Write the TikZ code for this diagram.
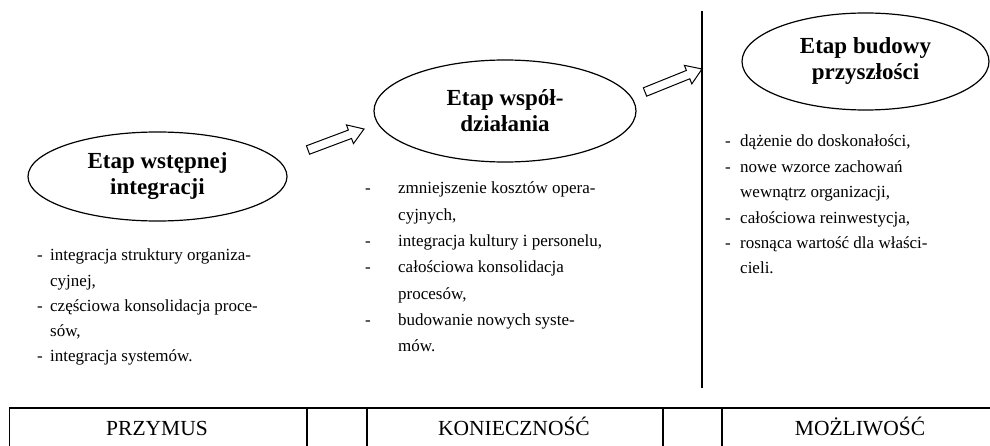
\documentclass[tikz,border=0pt]{standalone}
\usepackage{fontspec}
\setmainfont{Liberation Serif}
\usetikzlibrary{calc,shapes.geometric}

\newlength\dashw
% one list item: a dash followed by its text; continuation lines are indented
\newcommand\itm[1]{\makebox[\dashw][l]{-}#1}
\newcommand\cont[1]{\hspace*{\dashw}#1}

\tikzset{
  stage/.style={draw, line width=1.2pt, ellipse, inner sep=0pt, align=center,
    font=\fontsize{23}{26}\selectfont\bfseries},
  bullets/.style={anchor=base west, inner sep=0pt},
  blockarrow/.style={draw, line width=1pt, fill=white, line join=miter},
  rule/.style={line width=1.5pt},
  cell/.style={anchor=base, inner sep=0pt, font=\fontsize{21.5}{24}\selectfont},
}

% outlined block arrow from coordinate #1 to coordinate #2
\newcommand\blockarr[2]{%
  \draw[blockarrow] let \p1=($(#2)-(#1)$), \n1={atan2(\y1,\x1)}, \n2={veclen(\x1,\y1)} in
    [shift={(#1)}, rotate=\n1]
    (0,-4.5) -- ({\n2-15},-4.5) -- ({\n2-15},-10) -- ({\n2},0) --
    ({\n2-15},10) -- ({\n2-15},4.5) -- (0,4.5) -- cycle;}

\begin{document}
\begin{tikzpicture}[x=1pt,y=1pt]
  \useasboundingbox (0,0) rectangle (990,-446);

  % stages
  \node[stage, minimum width=259, minimum height=89] (s1) at (157.5,-176.5)
    {Etap wstępnej\\integracji};
  \node[stage, minimum width=262, minimum height=102] (s2) at (505,-111)
    {Etap współ-\\działania};
  \node[stage, minimum width=247, minimum height=97] (s3) at (865.5,-61.5)
    {Etap budowy\\przyszłości};

  % transitions between stages
  \coordinate (a1s) at (308,-150);
  \coordinate (a1e) at (364,-129);
  \coordinate (a2s) at (645,-92);
  \coordinate (a2e) at (702,-69);
  \blockarr{a1s}{a1e}
  \blockarr{a2s}{a2e}

  % separator
  \coordinate (sepT) at (702,-11);
  \coordinate (sepB) at (702,-388);
  \draw[rule] (sepT) -- (sepB);

  % features of each stage
  \node[bullets] (l1) at (37,-261) {\parbox[t]{400pt}{\setlength\dashw{13pt}\fontsize{17}{25.25}\selectfont
    \itm{integracja struktury organiza-}\\
    \cont{cyjnej,}\\
    \itm{częściowa konsolidacja proce-}\\
    \cont{sów,}\\
    \itm{integracja systemów.}}};

  \node[bullets] (l2) at (365,-194) {\parbox[t]{400pt}{\setlength\dashw{33pt}\fontsize{17}{26.3}\selectfont
    \itm{zmniejszenie kosztów opera-}\\
    \cont{cyjnych,}\\
    \itm{integracja kultury i personelu,}\\
    \itm{całościowa konsolidacja}\\
    \cont{procesów,}\\
    \itm{budowanie nowych syste-}\\
    \cont{mów.}}};

  \node[bullets] (l3) at (725,-147) {\parbox[t]{400pt}{\setlength\dashw{15pt}\fontsize{17}{25.4}\selectfont
    \itm{dążenie do doskonałości,}\\
    \itm{nowe wzorce zachowań}\\
    \cont{wewnątrz organizacji,}\\
    \itm{całościowa reinwestycja,}\\
    \itm{rosnąca wartość dla właści-}\\
    \cont{cieli.}}};

  % bottom table
  \draw[rule] (8.75,-408) -- (990,-408);
  \foreach \cx in {9.5,307,367,663,722}
    \draw[rule] (\cx,-408) -- (\cx,-446);
  \node[cell] (c1) at (157,-435.5) {PRZYMUS};
  \node[cell] (c2) at (514,-435.5) {KONIECZNOŚĆ};
  \node[cell] (c3) at (860,-435.5) {MOŻLIWOŚĆ};
\end{tikzpicture}
\end{document}
